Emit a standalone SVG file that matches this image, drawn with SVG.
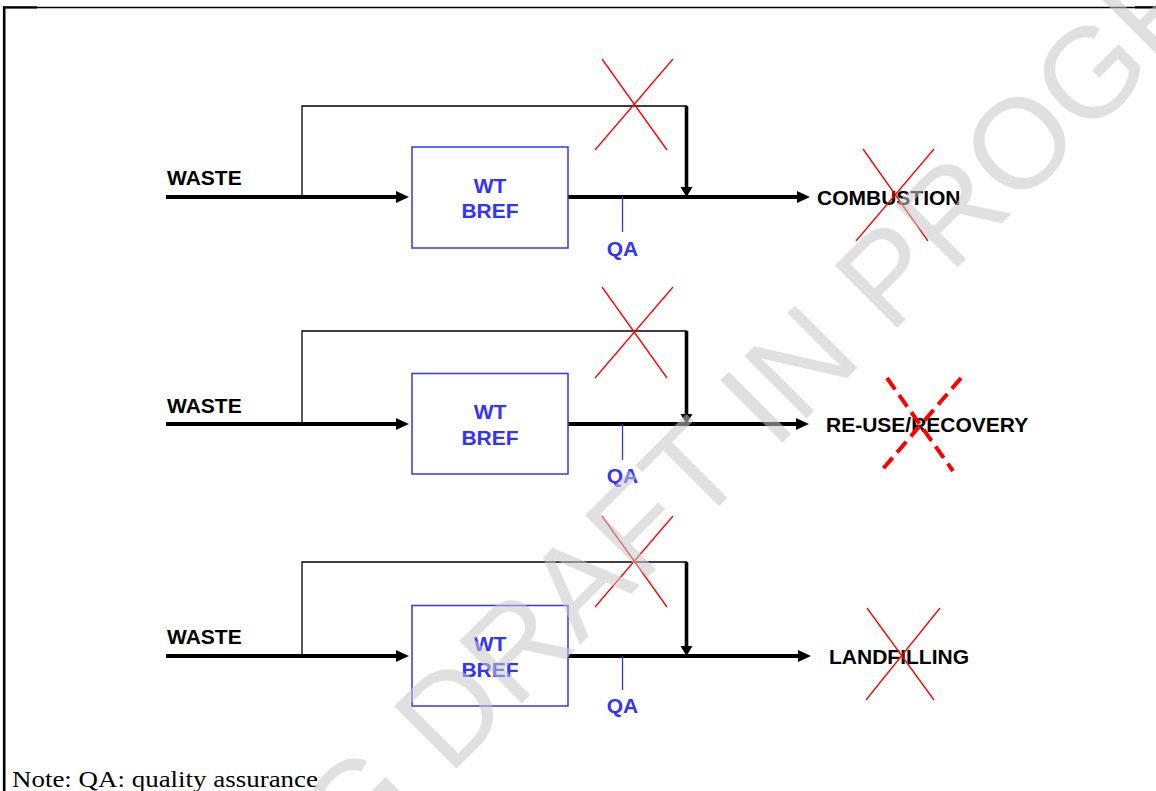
<svg xmlns="http://www.w3.org/2000/svg" width="1156" height="791" viewBox="0 0 1156 791">
<defs>
<style>
.thick{stroke:#000;stroke-width:4;fill:none}
.thin{stroke:#000;stroke-width:1.3;fill:none}
.drop{stroke:#000;stroke-width:3.6;fill:none}
.box{fill:none;stroke:#3333ff;stroke-width:1.5}
.qa{stroke:#3333ff;stroke-width:1.3}
.lbl{font-family:"Liberation Sans",Arial,sans-serif;font-weight:bold;font-size:21px;fill:#000}
.blue{fill:#3333ff}
.xs{stroke:#ff0000;stroke-width:1.3}
.xd{stroke:#ff0000;stroke-width:4;stroke-dasharray:14 7}
.note{font-family:"Liberation Serif","Times New Roman",serif;font-size:24px;fill:#000}
.wm{font-family:"Liberation Sans",Arial,sans-serif;font-size:128px;fill:#c8c8c8;opacity:0.55}
</style>
<marker id="arr" markerUnits="userSpaceOnUse" markerWidth="13" markerHeight="13" refX="7" refY="6" orient="auto">
<path d="M0,0 L13,6 L0,12 z" fill="#000"/>
</marker>
<marker id="arrD" markerUnits="userSpaceOnUse" markerWidth="10" markerHeight="13" refX="4" refY="6" orient="auto">
<path d="M0,0 L10,6 L0,12 z" fill="#000"/>
</marker>
</defs>
<rect width="1156" height="791" fill="#fff"/>
<g id="frame">
<line x1="3" y1="7.5" x2="1156" y2="7.5" stroke="#000" stroke-width="1.3"/>
<line x1="3" y1="7.3" x2="37" y2="7.3" stroke="#000" stroke-width="2.2"/>
<line x1="1135" y1="7.3" x2="1156" y2="7.3" stroke="#000" stroke-width="2.2"/>
<line x1="4.2" y1="6.5" x2="4.2" y2="791" stroke="#000" stroke-width="2.6"/>
</g>
<g id="connectors">
<!-- row 1 -->
<line class="thick" x1="166" y1="197" x2="403" y2="197" marker-end="url(#arr)"/>
<polyline class="thin" points="302,197 302,106 687,106"/>
<line class="drop" x1="686.5" y1="106" x2="686.5" y2="191" marker-end="url(#arrD)"/>
<line class="thick" x1="568" y1="197" x2="804" y2="197" marker-end="url(#arr)"/>
<line class="qa" x1="622.5" y1="197" x2="622.5" y2="232"/>
<!-- row 2 -->
<line class="thick" x1="166" y1="424" x2="403" y2="424" marker-end="url(#arr)"/>
<polyline class="thin" points="302,424 302,331 687,331"/>
<line class="drop" x1="686.5" y1="331" x2="686.5" y2="418" marker-end="url(#arrD)"/>
<line class="thick" x1="568" y1="424" x2="803" y2="424" marker-end="url(#arr)"/>
<line class="qa" x1="622.5" y1="424" x2="622.5" y2="460"/>
<!-- row 3 -->
<line class="thick" x1="166" y1="656" x2="403" y2="656" marker-end="url(#arr)"/>
<polyline class="thin" points="302,656 302,562 687,562"/>
<line class="drop" x1="686.5" y1="562" x2="686.5" y2="650" marker-end="url(#arrD)"/>
<line class="thick" x1="568" y1="656" x2="805" y2="656" marker-end="url(#arr)"/>
<line class="qa" x1="622.5" y1="656" x2="622.5" y2="690"/>
</g>
<g id="row1">
<text class="lbl" x="167" y="185">WASTE</text>
<g id="wtbref1">
<rect class="box" x="412" y="147" width="156" height="101"/>
<text class="lbl blue" x="490" y="193" text-anchor="middle">WT</text>
<text class="lbl blue" x="490" y="218" text-anchor="middle">BREF</text>
</g>
<text class="lbl blue" x="622.5" y="256" text-anchor="middle">QA</text>
<text class="lbl" x="817" y="205">COMBUSTION</text>
<line class="xs" x1="602" y1="59" x2="667" y2="150"/>
<line class="xs" x1="673" y1="59" x2="595" y2="150"/>
<line class="xs" x1="863" y1="149" x2="928" y2="241"/>
<line class="xs" x1="934" y1="149" x2="856" y2="241"/>
</g>
<g id="row2">
<text class="lbl" x="167" y="413">WASTE</text>
<g id="wtbref2">
<rect class="box" x="412" y="373.5" width="156" height="100.5"/>
<text class="lbl blue" x="490" y="419" text-anchor="middle">WT</text>
<text class="lbl blue" x="490" y="445" text-anchor="middle">BREF</text>
</g>
<text class="lbl blue" x="622.5" y="483" text-anchor="middle">QA</text>
<text class="lbl" x="826" y="432">RE-USE/RECOVERY</text>
<line class="xs" x1="602" y1="287" x2="667" y2="378"/>
<line class="xs" x1="673" y1="287" x2="595" y2="378"/>
<line class="xd" x1="887" y1="378" x2="953" y2="471"/>
<line class="xd" x1="961" y1="378" x2="882" y2="470"/>
</g>
<g id="row3">
<text class="lbl" x="167" y="644">WASTE</text>
<g id="wtbref3">
<rect class="box" x="412" y="605.5" width="156" height="100.5"/>
<text class="lbl blue" x="490" y="651" text-anchor="middle">WT</text>
<text class="lbl blue" x="490" y="677" text-anchor="middle">BREF</text>
</g>
<text class="lbl blue" x="622.5" y="713" text-anchor="middle">QA</text>
<text class="lbl" x="829" y="664">LANDFILLING</text>
<line class="xs" x1="602" y1="516" x2="667" y2="607"/>
<line class="xs" x1="673" y1="516" x2="595" y2="607"/>
<line class="xs" x1="867" y1="608" x2="934" y2="700"/>
<line class="xs" x1="940" y1="608" x2="866" y2="700"/>
</g>
<text id="note" class="note" x="12" y="786.5" textLength="306" lengthAdjust="spacingAndGlyphs">Note: QA: quality assurance</text>
<g id="watermark" transform="translate(449,776) rotate(-45)">
<text class="wm" x="0" y="0">DRAFT IN PROGRESS</text>
<text class="wm" x="-36" y="0" text-anchor="end">WORKING</text>
</g>
</svg>
